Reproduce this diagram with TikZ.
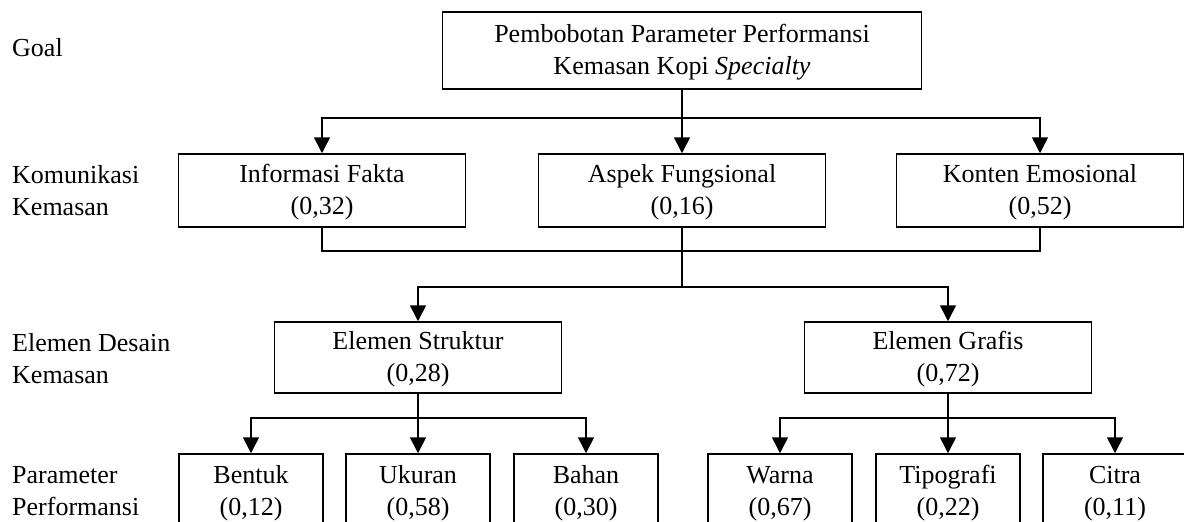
\documentclass[tikz,border=0pt]{standalone}
\usepackage{fontspec}
\setmainfont{Liberation Serif}
\usetikzlibrary{arrows.meta}
\newcommand{\bs}{\rule[-7.5pt]{0pt}{31.99pt}}
\begin{document}
\begin{tikzpicture}[x=1pt,y=-1pt,
  box/.style={draw, line width=1.5pt, inner sep=0pt, align=center, minimum height=73pt, font=\fontsize{26}{32}\selectfont},
  wide/.style={minimum width=287pt},
  small/.style={minimum width=144pt},
  lbl/.style={inner sep=0pt, align=left, anchor=north west, font=\fontsize{26}{32}\selectfont},
  conn/.style={line width=1.6pt},
  arr/.style={conn, -{Triangle[length=16pt,width=16pt]}}]
\clip (0,0) rectangle (1184,522);
% level labels
\node[lbl] (lgoal) at (12,31.5) {\bs Goal};
\node[lbl] (lkom) at (12,158.5) {\bs Komunikasi\\\bs Kemasan};
\node[lbl] (lel) at (12,326.5) {\bs Elemen Desain\\\bs Kemasan};
\node[lbl] (lpar) at (12,458.5) {\bs Parameter\\\bs Performansi};
% boxes
\node[box, minimum width=479pt, minimum height=77pt] (top) at (682,50.5) {\bs Pembobotan Parameter Performansi\\\bs Kemasan Kopi \textit{Specialty}};
\node[box, wide] (info) at (322,190.5) {\bs Informasi Fakta\\\bs(0,32)};
\node[box, wide] (aspek) at (682,190.5) {\bs Aspek Fungsional\\\bs(0,16)};
\node[box, wide] (konten) at (1040,190.5) {\bs Konten Emosional\\\bs(0,52)};
\node[box, wide, minimum height=71pt] (struktur) at (418,357.5) {\bs Elemen Struktur\\\bs(0,28)};
\node[box, wide, minimum height=71pt] (grafis) at (948,357.5) {\bs Elemen Grafis\\\bs(0,72)};
\node[box, small] (bentuk) at (251,490.5) {\bs Bentuk\\\bs(0,12)};
\node[box, small] (ukuran) at (418,490.5) {\bs Ukuran\\\bs(0,58)};
\node[box, small] (bahan) at (586,490.5) {\bs Bahan\\\bs(0,30)};
\node[box, small] (warna) at (780,490.5) {\bs Warna\\\bs(0,67)};
\node[box, small] (tipo) at (948,490.5) {\bs Tipografi\\\bs(0,22)};
\node[box, small] (citra) at (1115,490.5) {\bs Citra\\\bs(0,11)};
% junctions
\coordinate (j0) at (682,118);
\coordinate (m1) at (682,251);
\coordinate (j1) at (682,287);
\coordinate (j2) at (418,418);
\coordinate (j3) at (948,418);
% connectors
\draw[conn] (top.south) -- (j0);
\draw[arr] (j0) -| (info.north);
\draw[arr] (j0) -- (aspek.north);
\draw[arr] (j0) -| (konten.north);
\draw[conn] (info.south) |- (m1) -| (konten.south);
\draw[conn] (aspek.south) -- (j1);
\draw[arr] (j1) -| (struktur.north);
\draw[arr] (j1) -| (grafis.north);
\draw[conn] (struktur.south) -- (j2);
\draw[arr] (j2) -| (bentuk.north);
\draw[arr] (j2) -- (ukuran.north);
\draw[arr] (j2) -| (bahan.north);
\draw[conn] (grafis.south) -- (j3);
\draw[arr] (j3) -| (warna.north);
\draw[arr] (j3) -- (tipo.north);
\draw[arr] (j3) -| (citra.north);
\end{tikzpicture}
\end{document}
